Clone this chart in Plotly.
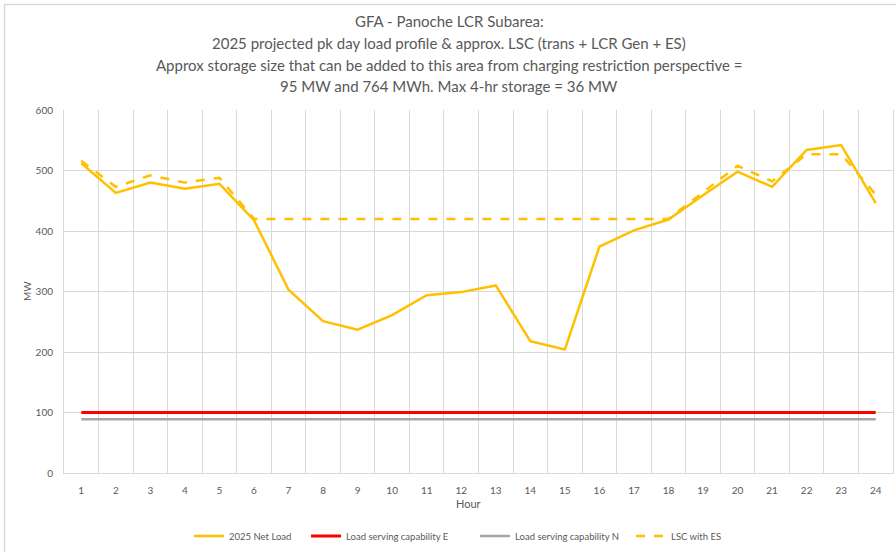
import plotly.graph_objects as go

hours = list(range(1, 25))
net_load_2025 = [512, 463, 480, 470, 478, 418, 303, 251, 237, 261, 294, 299,
                 310, 218, 204, 374, 401, 419, 459, 498, 473, 534, 542, 446]
lsc_e = [100] * 24
lsc_n = [89] * 24
lsc_with_es = [516, 473, 492, 480, 488, 420, 420, 420, 420, 420, 420, 420,
               420, 420, 420, 420, 420, 420, 464, 508, 482, 527, 527, 460]
x_tick_labels = [str(h) for h in hours]
title_lines = [
    "GFA - Panoche LCR Subarea:",
    "2025 projected pk day load profile & approx. LSC (trans + LCR Gen + ES)",
    "Approx storage size that can be added to this area from charging restriction perspective =",
    "95 MW and 764 MWh. Max 4-hr storage = 36 MW",
]

W, H = 896, 552
L, R, T, B = 64, 3, 110, 79
PW, PH = W - L - R, H - T - B
FONT = "Lato, 'Liberation Sans', sans-serif"
TXT = "#595959"
GRID = "#d9d9d9"


def px_x(p):
    return (p - L) / PW


def px_y(p):
    return 1 + (T - p) / PH


fig = go.Figure()
fig.add_trace(go.Scatter(x=hours, y=net_load_2025, mode="lines", name="2025 Net Load",
                         line=dict(color="#FFC000", width=2.5), legendwidth=72))
fig.add_trace(go.Scatter(x=hours, y=lsc_e, mode="lines", name="Load serving capability E",
                         line=dict(color="#FF0000", width=3), legendwidth=124))
fig.add_trace(go.Scatter(x=hours, y=lsc_n, mode="lines", name="Load serving capability N",
                         line=dict(color="#A5A5A5", width=2.5), legendwidth=111))
fig.add_trace(go.Scatter(x=hours, y=lsc_with_es, mode="lines", name="LSC with ES",
                         line=dict(color="#FFC000", width=2.5, dash="dash"), legendwidth=60))

annotations = []
for line, yc in zip(title_lines, [21, 43, 65, 86]):
    annotations.append(dict(text=line, xref="paper", yref="paper", x=px_x(449), y=px_y(yc),
                            xanchor="center", yanchor="middle", showarrow=False,
                            font=dict(family=FONT, size=15, color=TXT)))
annotations.append(dict(text="MW", xref="paper", yref="paper", x=px_x(27), y=px_y(291),
                        xanchor="center", yanchor="middle", showarrow=False, textangle=-90,
                        font=dict(family=FONT, size=10, color=TXT)))
annotations.append(dict(text="Hour", xref="paper", yref="paper", x=px_x(468), y=px_y(503),
                        xanchor="center", yanchor="middle", showarrow=False,
                        font=dict(family=FONT, size=11, color=TXT)))

shapes = [
    dict(type="line", xref="paper", yref="paper", x0=px_x(4), x1=px_x(900), y0=px_y(4.5), y1=px_y(4.5),
         line=dict(color=GRID, width=1.5)),
    dict(type="line", xref="paper", yref="paper", x0=px_x(4.5), x1=px_x(4.5), y0=px_y(4), y1=px_y(560),
         line=dict(color=GRID, width=1.5)),
]

fig.update_layout(
    width=W, height=H,
    margin=dict(l=L, r=R, t=T, b=B, autoexpand=False),
    paper_bgcolor="white", plot_bgcolor="white",
    font=dict(family=FONT, color=TXT, size=10),
    showlegend=True,
    legend=dict(orientation="h", xref="paper", yref="paper", x=px_x(189), xanchor="left",
                y=px_y(536), yanchor="middle", font=dict(family=FONT, size=9.5, color=TXT),
                itemwidth=30, bgcolor="rgba(0,0,0,0)"),
    annotations=annotations,
    shapes=shapes,
)
fig.update_xaxes(range=[0.5, 24.5], tickmode="array", tickvals=hours, ticktext=x_tick_labels,
                 showgrid=False, ticks="", ticklabelstandoff=8,
                 tickfont=dict(family=FONT, size=10, color=TXT),
                 showline=True, linecolor=GRID, linewidth=1, zeroline=False,
                 minor=dict(tick0=0.5, dtick=1, showgrid=True, gridcolor=GRID, gridwidth=1, ticks=""))
fig.update_yaxes(range=[0, 600], dtick=100, showgrid=True, gridcolor=GRID, gridwidth=1,
                 zeroline=False, ticks="", ticklabelstandoff=8,
                 tickfont=dict(family=FONT, size=10, color=TXT),
                 showline=True, linecolor=GRID, mirror=True)

fig.write_html("out.html", config={"displayModeBar": False},
               post_script="document.body.style.margin='0';")
